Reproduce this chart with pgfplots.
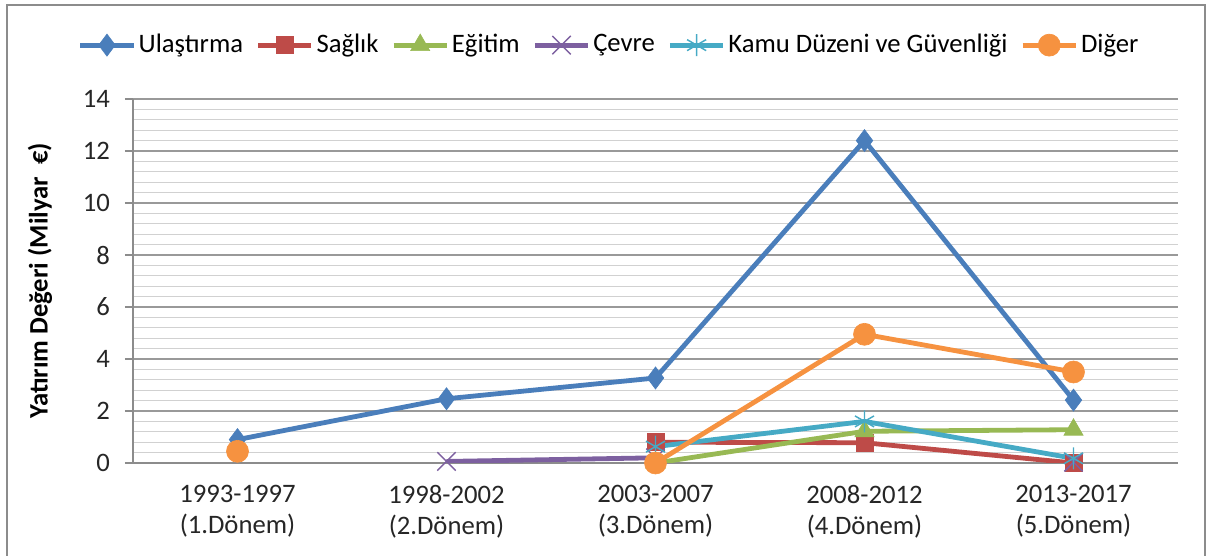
\documentclass[border=0pt]{standalone}
\usepackage{pgfplots}
\pgfplotsset{compat=1.18}
\usepackage{fontspec}
\setmainfont{Carlito}
\definecolor{cBlue}{HTML}{4A7EBB}
\definecolor{cRed}{HTML}{BE4B48}
\definecolor{cGreen}{HTML}{98B954}
\definecolor{cPurple}{HTML}{7D60A0}
\definecolor{cCyan}{HTML}{46AAC5}
\definecolor{cOrange}{HTML}{F69240}
\newlength\px
\setlength\px{0.75pt}
\begin{document}
\begin{tikzpicture}
\fontsize{20pt}{24pt}\selectfont
\path[use as bounding box] (0,0) rectangle (1212\px,556\px);
\draw[color=black!45, line width=2\px] (7\px,0) -- (7\px,551\px) -- (1205\px,551\px) -- (1205\px,0);
\begin{axis}[
  at={(133\px,93\px)}, anchor=south west,
  scale only axis, width=1045\px, height=364\px,
  xmin=-0.5, xmax=4.5, ymin=0, ymax=14,
  xtick={0,1,2,3,4},
  xticklabels={{1993-1997\\(1.Dönem)},{1998-2002\\(2.Dönem)},{2003-2007\\(3.Dönem)},{2008-2012\\(4.Dönem)},{2013-2017\\(5.Dönem)}},
  x tick label style={align=center, font=\fontsize{20pt}{23.5pt}\selectfont, text=black!85, yshift=-5\px},
  major x tick style={draw=none},
  extra x ticks={-0.5,0.5,1.5,2.5,3.5,4.5},
  extra x tick labels={},
  extra x tick style={tick style={draw=black!45, line width=0.8pt}, major tick length=7\px, tick align=outside, grid=none},
  ytick={0,2,...,14},
  minor y tick num=4,
  ymajorgrids, yminorgrids,
  major grid style={draw=black!40, line width=0.9pt},
  minor grid style={draw=black!18, line width=0.9pt},
  y tick style={draw=black!45, line width=0.8pt},
  major tick length=8\px, tick align=outside,
  minor y tick style={draw=none},
  y tick label style={font=\fontsize{20pt}{24pt}\selectfont, text=black!85},
  yticklabel style={xshift=-6\px},
  /pgf/number format/assume math mode=true,
  axis line style={draw=black!45, line width=0.8pt},
  axis x line*=bottom, axis y line*=left,
  ylabel={\bfseries Yatırım Değeri (Milyar~ €)},
  every axis y label/.style={at={(axis description cs:-0.089,0.5)}, rotate=90, anchor=center, font=\fontsize{20pt}{24pt}\selectfont, text=black},
  unbounded coords=jump,
  legend columns=6,
  legend style={at={(axis description cs:0.456,1.148)}, anchor=center, draw=none, fill=none,
    font=\fontsize{20pt}{24pt}\selectfont, /tikz/every even column/.append style={column sep=10\px},
    /tikz/every odd column/.append style={column sep=0pt}},
  legend image code/.code={\draw[mark repeat=2,mark phase=2] plot coordinates {(0pt,0pt)(20pt,0pt)(40pt,0pt)};},
  every axis plot/.append style={line width=4.8\px},
]
\addplot[cBlue, mark=diamond*, mark size=11\px, mark options={line width=0.5pt}] coordinates {(0,0.9)(1,2.47)(2,3.27)(3,12.4)(4,2.42)};
\addlegendentry{Ulaştırma}
\addplot[cRed, mark=square*, mark size=8.5\px, mark options={line width=0.5pt}] coordinates {(0,nan)(1,nan)(2,0.8)(3,0.78)(4,0.0)};
\addlegendentry{Sağlık}
\addplot[cGreen, mark=triangle*, mark size=11\px, mark options={line width=0.5pt}] coordinates {(0,nan)(1,nan)(2,0.0)(3,1.22)(4,1.28)};
\addlegendentry{Eğitim}
\addplot[cPurple, mark=x, mark size=13\px, mark options={line width=1.1pt}] coordinates {(0,nan)(1,0.06)(2,0.2)(3,nan)(4,0.03)};
\addlegendentry{Çevre}
\addplot[cCyan, mark=asterisk, mark size=11\px, mark options={line width=1.1pt}] coordinates {(0,nan)(1,nan)(2,0.63)(3,1.6)(4,0.18)};
\addlegendentry{Kamu Düzeni ve Güvenliği}
\addplot[cOrange, mark=*, mark size=11\px, mark options={line width=0.5pt}] coordinates {(0,0.45)(1,nan)(2,0.0)(3,4.95)(4,3.5)};
\addlegendentry{Diğer}
\end{axis}
\end{tikzpicture}
\end{document}
